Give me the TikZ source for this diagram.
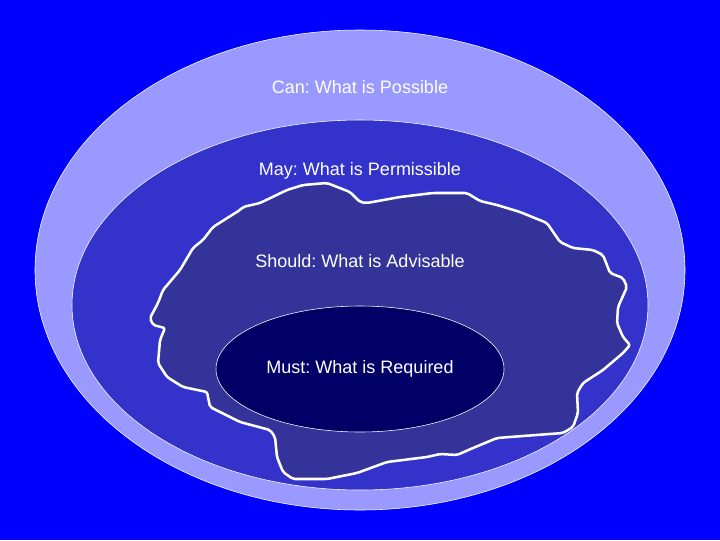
\documentclass[tikz,border=0pt]{standalone}
\usepackage{fontspec}
\setmainfont{Liberation Sans}
\usepackage{tikz}
\usetikzlibrary{positioning}
\frenchspacing

\definecolor{bgblue}{RGB}{0,0,255}
\definecolor{canblue}{RGB}{153,153,255}
\definecolor{mayblue}{RGB}{51,51,204}
\definecolor{shouldblue}{RGB}{51,51,153}
\definecolor{mustblue}{RGB}{0,0,102}

\begin{document}
\begin{tikzpicture}[x=0.025cm, y=-0.025cm,
layer/.style={draw=white, line width=0.4pt},
rim/.style={draw=white, line width=1.8pt, line join=round, rounded corners=1.5pt},
label/.style={text=white, font=\fontsize{12.8}{15}\selectfont, inner sep=0pt}]

\fill[bgblue] (0,0) rectangle (720,540);
\useasboundingbox (0,0) rectangle (720,540);

\path[layer, fill=canblue]  (360,270) ellipse [x radius=325, y radius=240];
\path[layer, fill=mayblue]  (360,305) ellipse [x radius=288, y radius=185];

% the rough edge
\path[rim, fill=shouldblue] (240,210) -- (243,207) -- (260,203) -- (287,190) -- (303,185)
 -- (327,183) -- (350,192) -- (360,202) -- (367,203) -- (400,197) -- (433,193)
 -- (467,193) -- (480,201) -- (497,205) -- (520,212) -- (547,223) -- (560,242)
 -- (573,248) -- (593,250) -- (603,255) -- (610,273) -- (623,278) -- (627,287)
 -- (618,307) -- (617,323) -- (623,337) -- (630,345) -- (623,353) -- (603,370)
 -- (583,383) -- (577,393) -- (578,413) -- (573,427) -- (563,433) -- (523,436)
 -- (497,438) -- (473,448) -- (457,455) -- (440,454) -- (427,457) -- (387,462)
 -- (357,473) -- (327,479) -- (293,479) -- (283,472) -- (277,457) -- (275,437)
 -- (270,430) -- (240,422) -- (220,412) -- (210,407) -- (207,392) -- (183,387)
 -- (167,377) -- (158,363) -- (160,340) -- (165,328) -- (153,325) -- (150,318)
 -- (158,303) -- (163,290) -- (180,270) -- (193,248) -- (203,240) -- (213,227) -- cycle;

\path[layer, fill=mustblue] (360,369) ellipse [x radius=144, y radius=63];

\node[label] (can)    at (360,87)  {Can: What is Possible};
\node[label] (may)    at (360,171) {May: What is Permissible};
\node[label] (should) at (360,261) {Should: What is Advisable};
\node[label] (must)   at (360,369) {Must: What is Required};

\end{tikzpicture}
\end{document}
